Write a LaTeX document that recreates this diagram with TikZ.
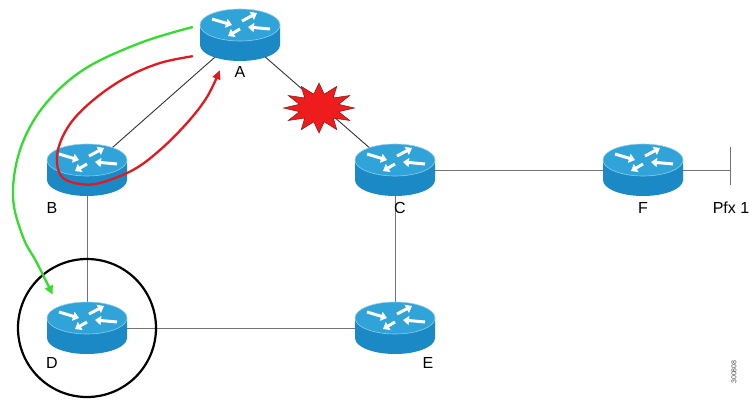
\documentclass[tikz,border=0pt]{standalone}
\usepackage{fontspec}
\setmainfont{Liberation Sans}
\usetikzlibrary{arrows.meta,backgrounds,shapes.geometric}

\definecolor{routertop}{HTML}{30A3D9}
\definecolor{routerside}{HTML}{1A89C5}
\definecolor{failred}{HTML}{EE1C1C}
\definecolor{pathred}{HTML}{E3191F}
\definecolor{pathgreen}{HTML}{33DD2E}

\tikzset{
  routerbox/.style={minimum width=80pt, minimum height=54pt, inner sep=0pt},
  routerarrow/.style={white, line width=3pt, -{Triangle[length=6pt,width=9pt]}},
  link/.style={draw=black!55, line width=0.9pt},
  darklink/.style={draw=black!80, line width=0.9pt},
  lbl/.style={font=\fontsize{16}{18}\selectfont},
}

\newcommand{\drawrouter}[2]{%
  \node[routerbox] (#1) at (#2) {};
  \begin{scope}[shift={(#2)}]
    \fill[routerside] (-40,-10) -- (-40,10) arc[start angle=180, end angle=0, x radius=40, y radius=16] -- (40,-10) -- cycle;
    \filldraw[fill=routertop, draw=routertop!55!white, line width=0.6pt] (0,-10) ellipse[x radius=40, y radius=16];
    \draw[routerarrow] (-28,-16) -- (-8,-10);
    \draw[routerarrow] (2,-14) -- (17,-22);
    \draw[routerarrow] (0,-6) -- (-12,1);
    \draw[routerarrow] (30,-6) -- (8,-8);
  \end{scope}}

\begin{document}
\begin{tikzpicture}[x=1pt, y=-1pt,
    redpath/.style={draw=pathred, line width=2.3pt, -{Triangle[length=9pt,width=8pt]}},
    greenpath/.style={draw=pathgreen, line width=2.3pt, -{Triangle[length=9pt,width=8pt]}},
    ring/.style={draw, circle, line width=2.2pt, minimum size=138pt},
    burst/.style={star, star points=12, star point ratio=1.75, minimum size=50pt, inner sep=0pt,
      fill=failred, draw=failred!60!black, line width=0.5pt}]

  \useasboundingbox (0,0) rectangle (750,405);

  \foreach \n/\x/\y in {A/240/35, B/87/170, C/395/170, F/643/170, D/87/328, E/395/328}
    \drawrouter{r\n}{\x,\y};

  \foreach \n/\x/\y in {A/240/72, B/52/208, C/400/208, F/643/208, D/52/363, E/428/363}
    \node[lbl] (l\n) at (\x,\y) {\n};

  \coordinate (pfxtop) at (730,147);
  \coordinate (pfxbot) at (730,185);
  \coordinate (pfx) at (730,170);
  \node[lbl] (lpfx) at (731,208) {Pfx 1};

  \begin{scope}[on background layer]
    \foreach \i/\j in {A/B, A/C}
      \draw[darklink] (r\i.center) -- (r\j.center);
    \foreach \i/\j in {B/D, C/E, C/F, D/E}
      \draw[link] (r\i.center) -- (r\j.center);
    \draw[link] (rF.center) -- (pfx);
    \draw[link] (pfxtop) -- (pfxbot);
  \end{scope}

  \begin{scope}[shift={(319,108)}, xscale=1.42]
    \node[burst, transform shape] (crash) {};
  \end{scope}

  \node[ring] (ringD) at (rD) {};

  \coordinate (redout) at ([xshift=-7pt,yshift=6pt]rA.south west);
  \coordinate (redin) at ([xshift=20pt,yshift=-8pt]rA.south west);
  \coordinate (greenout) at ([xshift=-7pt,yshift=8pt]rA.west);
  \coordinate (greenin) at ([xshift=6pt,yshift=6pt]rD.north west);

  \draw[redpath] plot[smooth, tension=0.6] coordinates {(redout) (160,63) (127,77) (97,97) (73,120) (60,143) (57,163) (63,178) (80,184) (100,183) (133,170) (160,150) (187,123) (207,97) (redin)};
  \draw[greenpath] plot[smooth, tension=0.6] coordinates {(greenout) (140,43) (83,70) (43,107) (20,150) (13,197) (23,237) (37,263) (greenin)};

  \node[font=\fontsize{7}{8}\selectfont, text=black!70, rotate=90] (figid) at (734,372) {300808};
\end{tikzpicture}
\end{document}
